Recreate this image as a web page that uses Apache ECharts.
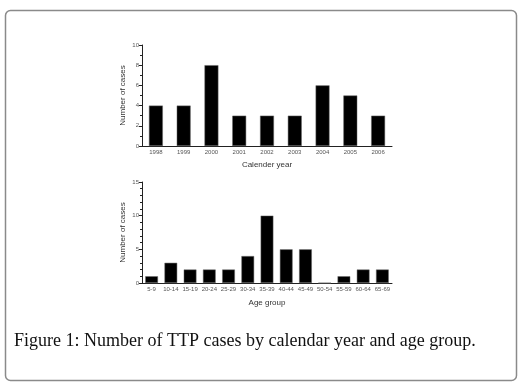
<!DOCTYPE html>
<html><head><meta charset="utf-8">
<script src="https://cdn.jsdelivr.net/npm/echarts@6/dist/echarts.min.js"></script>
<style>html,body{margin:0;padding:0;background:#fff}#c{width:527px;height:390px}</style>
</head><body><div id="c"></div>
<script>
const years = ['1998','1999','2000','2001','2002','2003','2004','2005','2006'];
const yearCases = [4,4,8,3,3,3,6,5,3];
const ageGroups = ['5-9','10-14','15-19','20-24','25-29','30-34','35-39','40-44','45-49','50-54','55-59','60-64','65-69'];
const ageCases = [1,3,2,2,2,4,10,5,5,0,1,2,2];
const caption = 'Figure 1: Number of TTP cases by calendar year and age group.';

const chart = echarts.init(document.getElementById('c'), null, {renderer:'canvas'});
const axLine = {lineStyle:{color:'#222', width:1}};
const lbl = {color:'#555', fontSize:6, fontFamily:'Liberation Sans'};
const nameStyle = {color:'#333', fontSize:8, fontFamily:'Liberation Sans'};
function xAx(idx, data, name, gap){
  return {type:'category', gridIndex:idx, data:data, name:name, nameLocation:'middle', nameGap:gap,
    nameTextStyle:nameStyle, axisLine:axLine, axisTick:{alignWithLabel:true, length:2, lineStyle:{color:'#222'}},
    axisLabel:Object.assign({margin:3, interval:0}, lbl)};
}
function yAx(idx, max, interval, minorSplit){
  return {type:'value', gridIndex:idx, min:0, max:max, interval:interval, name:'Number of cases',
    nameLocation:'middle', nameGap:15, nameTextStyle:nameStyle,
    axisLine:{show:true, lineStyle:{color:'#222'}}, axisTick:{show:true, length:3, lineStyle:{color:'#222'}},
    minorTick:{show:true, splitNumber:minorSplit, length:2, lineStyle:{color:'#222'}},
    splitLine:{show:false}, axisLabel:Object.assign({margin:3}, lbl)};
}
chart.setOption({
  animation:false,
  backgroundColor:'#fff',
  grid:[{left:142, top:45, width:250, height:101},{left:142, top:182, width:250, height:101}],
  xAxis:[xAx(0, years, 'Calender year', 15), xAx(1, ageGroups, 'Age group', 16)],
  yAxis:[yAx(0, 10, 2, 2), yAx(1, 15, 5, 5)],
  series:[
    {type:'bar', xAxisIndex:0, yAxisIndex:0, data:yearCases, barCategoryGap:'50%',
      itemStyle:{color:'#000', borderColor:'#666', borderWidth:0.5}},
    {type:'bar', xAxisIndex:1, yAxisIndex:1, data:ageCases, barCategoryGap:'34%',
      itemStyle:{color:'#000', borderColor:'#666', borderWidth:0.5}}
  ],
  graphic:[
    {type:'rect', shape:{x:5.5, y:10.5, width:511, height:370, r:5}, style:{fill:null, stroke:'#8a8a8a', lineWidth:1.5}, silent:true},
    {type:'text', left:14, top:332, style:{text:caption, fill:'#111', font:'18px "Liberation Serif"'}}
  ]
});
</script></body></html>
